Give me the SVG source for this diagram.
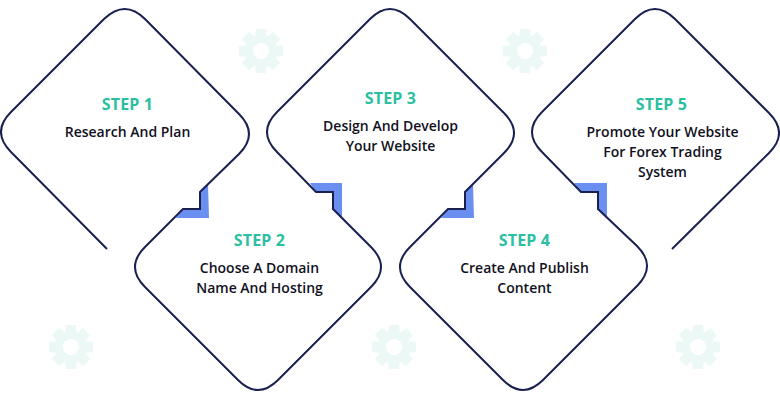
<svg xmlns="http://www.w3.org/2000/svg" width="780" height="400" viewBox="0 0 780 400">
<style>
text{font-family:"Open Sans","Liberation Sans",sans-serif;text-anchor:middle}
.s{font-size:16px;font-weight:700;fill:#2bbfa1;letter-spacing:.15px}
.t{font-size:14px;font-weight:600;fill:#111122}
.o{fill:none;stroke:#1a2050;stroke-width:2}
.b{fill:#6b8ff0}
</style>
<defs>
<g id="gear" fill="#ecf8f6">
<path d="M0-14A14 14 0 1 1 0 14A14 14 0 1 1 0-14ZM0-8A8 8 0 1 0 0 8A8 8 0 1 0 0-8Z" fill-rule="evenodd"/>
<path id="tooth" d="M-5-22H5L6-13H-6Z"/>
<use href="#tooth" transform="rotate(45)"/><use href="#tooth" transform="rotate(90)"/><use href="#tooth" transform="rotate(135)"/><use href="#tooth" transform="rotate(180)"/><use href="#tooth" transform="rotate(225)"/><use href="#tooth" transform="rotate(270)"/><use href="#tooth" transform="rotate(315)"/>
</g>
</defs>
<rect width="780" height="400" fill="#fff"/>
<g id="decor">
<use href="#gear" x="261" y="51"/><use href="#gear" x="525" y="51"/><use href="#gear" x="71" y="347"/><use href="#gear" x="394" y="347"/><use href="#gear" x="698" y="347"/>
<path class="b" d="M208 184L209 218H176L183 209H200V192Z"/>
<path class="b" d="M310 183H342V218L333 209V192H316Z"/>
<path class="b" d="M473 184L474 218H441L448 209H465V192Z"/>
<path class="b" d="M574 183H607V218L598 209V192H581Z"/>
</g>
<g id="connectors">
<path class="o" d="M107 249L11 152Q-9 132 11 112L104 19Q125-1 145 19L239 114Q259 134 239 154L200 192V209H183L145 247Q125 267 145 287L238 380Q258 400 278 380L371 287Q391 267 371 247L333 209V192H316L277 152Q257 132 277 112L370 19Q390-1 410 19L504 113Q524 133 504 153L465 192V209H448L410 247Q390 267 410 287L503 380Q523 400 543 380L637 286Q657 266 637 246L598 209V192H581L542 152Q522 132 542 112L635 19Q655-1 675 19L769 113Q789 133 769 153L672 249"/>
</g>
<g id="step1"><text class="s" x="127.5" y="110">STEP 1</text><text class="t" x="127.5" y="137">Research And Plan</text></g>
<g id="step2"><text class="s" x="259.5" y="246">STEP 2</text><text class="t" x="259.5" y="273">Choose A Domain</text><text class="t" x="259.5" y="293">Name And Hosting</text></g>
<g id="step3"><text class="s" x="390.5" y="104">STEP 3</text><text class="t" x="390.5" y="131">Design And Develop</text><text class="t" x="390.5" y="151">Your Website</text></g>
<g id="step4"><text class="s" x="524.5" y="246">STEP 4</text><text class="t" x="524.5" y="273">Create And Publish</text><text class="t" x="524.5" y="293">Content</text></g>
<g id="step5"><text class="s" x="661.5" y="110">STEP 5</text><text class="t" x="662.5" y="137">Promote Your Website</text><text class="t" x="662.5" y="157">For Forex Trading</text><text class="t" x="662.5" y="177">System</text></g>
</svg>
